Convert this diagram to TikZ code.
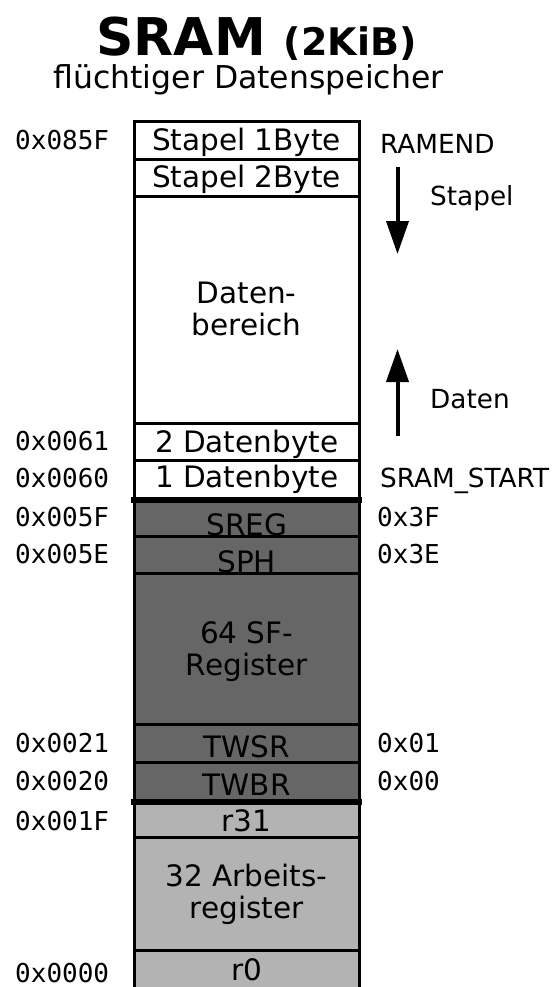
\documentclass[tikz,border=0pt]{standalone}
\usepackage{fontspec}
\setmainfont{DejaVu Sans}
\setmonofont{DejaVu Sans Mono}
\usetikzlibrary{arrows.meta}
\definecolor{regdark}{HTML}{666666}
\definecolor{reglight}{HTML}{B3B3B3}
\tikzset{
  cell/.style={draw=black, line width=3pt, minimum width=225.3pt, inner sep=0pt},
  celltext/.style={inner sep=0pt, align=center, font=\fontsize{29.5}{32}\selectfont},
  addr/.style={inner sep=0pt, anchor=base west, font=\ttfamily\fontsize{26}{30}\selectfont},
  side/.style={inner sep=0pt, anchor=base west, font=\fontsize{26.3}{30}\selectfont},
  sep/.style={line width=6pt},
  growarrow/.style={line width=4pt, -{Triangle[width=22pt,length=33pt]}}
}
\begin{document}
\begin{tikzpicture}[x=1pt,y=-1pt]
\useasboundingbox (0,0) rectangle (555,987);
% title
\node[anchor=base, inner sep=0pt, font=\bfseries\fontsize{52}{60}\selectfont] (title) at (256.5,56) {SRAM {\fontsize{38}{44}\selectfont (2KiB)}};
\node[anchor=base, inner sep=0pt, font=\fontsize{31.5}{36}\selectfont] (sub) at (248.5,89) {flüchtiger Datenspeicher};
% rows
\node[cell, fill=white, minimum height=37.7pt] (st1) at (246.65,140.35) {};
\node[cell, fill=white, minimum height=37.7pt] (st2) at (246.65,178.05) {};
\node[cell, fill=white, minimum height=226.2pt] (data) at (246.65,310) {};
\node[cell, fill=white, minimum height=37.7pt] (d2) at (246.65,441.95) {};
\node[cell, fill=white, minimum height=37.7pt] (d1) at (246.65,479.65) {};
\node[cell, fill=regdark, minimum height=37.7pt] (sreg) at (246.65,517.35) {};
\node[cell, fill=regdark, minimum height=37.7pt] (sph) at (246.65,555.05) {};
\node[cell, fill=regdark, minimum height=150.8pt] (sf) at (246.65,649.3) {};
\node[cell, fill=regdark, minimum height=37.7pt] (twsr) at (246.65,743.55) {};
\node[cell, fill=regdark, minimum height=37.7pt] (twbr) at (246.65,781.25) {};
\node[cell, fill=reglight, minimum height=37.7pt] (r31) at (246.65,818.95) {};
\node[cell, fill=reglight, minimum height=113.1pt] (arb) at (246.65,894.35) {};
\node[cell, fill=reglight, minimum height=37.7pt] (r0) at (246.65,969.75) {};
% thick separators
\draw[sep] ([xshift=-1.5pt]d1.south west) -- ([xshift=1.5pt]d1.south east);
\draw[sep] ([xshift=-1.5pt]twbr.south west) -- ([xshift=1.5pt]twbr.south east);
% cell texts
\node[celltext] (tst1) at ([yshift=-2.5pt]st1.center) {Stapel 1Byte};
\node[celltext] (tst2) at ([yshift=-1pt]st2.center) {Stapel 2Byte};
\node[celltext] (tdata) at ([yshift=1pt]data.center) {Daten-\\bereich};
\node[celltext] (td2) at ([yshift=-2pt]d2.center) {2 Datenbyte};
\node[celltext] (td1) at (d1.center) {1 Datenbyte};
\node[celltext] (tsreg) at ([yshift=-7pt]sreg.center) {SREG};
\node[celltext] (tsph) at ([yshift=-7pt]sph.center) {SPH};
\node[celltext] (tsf) at ([yshift=-2pt]sf.center) {64 SF-\\Register};
\node[celltext] (ttwsr) at ([yshift=-3pt]twsr.center) {TWSR};
\node[celltext] (ttwbr) at ([yshift=-3pt]twbr.center) {TWBR};
\node[celltext] (tr31) at ([yshift=-2pt]r31.center) {r31};
\node[celltext] (tarb) at (arb.center) {32 Arbeits-\\register};
\node[celltext] (tr0) at (r0.center) {r0};
% left addresses
\node[addr] (a1) at (15,149.4) {0x085F};
\node[addr] (a2) at (15,450.4) {0x0061};
\node[addr] (a3) at (15,487.9) {0x0060};
\node[addr] (a4) at (15,526.4) {0x005F};
\node[addr] (a5) at (15,563.9) {0x005E};
\node[addr] (a6) at (15,752.9) {0x0021};
\node[addr] (a7) at (15,790.4) {0x0020};
\node[addr] (a8) at (15,830.4) {0x001F};
\node[addr] (a9) at (15,982.5) {0x0000};
% right labels
\node[side] (ramend) at (380,153.4) {RAMEND};
\node[side] (sramstart) at (380,487.4) {SRAM\_START};
\node[addr] (b1) at (377,526.4) {0x3F};
\node[addr] (b2) at (377,563.9) {0x3E};
\node[addr] (b3) at (377,752.9) {0x01};
\node[addr] (b4) at (377,790.4) {0x00};
% growth arrows
\coordinate (sa) at (397.5,167);
\coordinate (sb) at (397.5,254);
\coordinate (da) at (397.5,436);
\coordinate (db) at (397.5,349);
\draw[growarrow] (sa) -- (sb);
\draw[growarrow] (da) -- (db);
\node[side] (lstapel) at (430,205.4) {Stapel};
\node[side] (ldaten) at (430,408.4) {Daten};
\end{tikzpicture}
\end{document}
